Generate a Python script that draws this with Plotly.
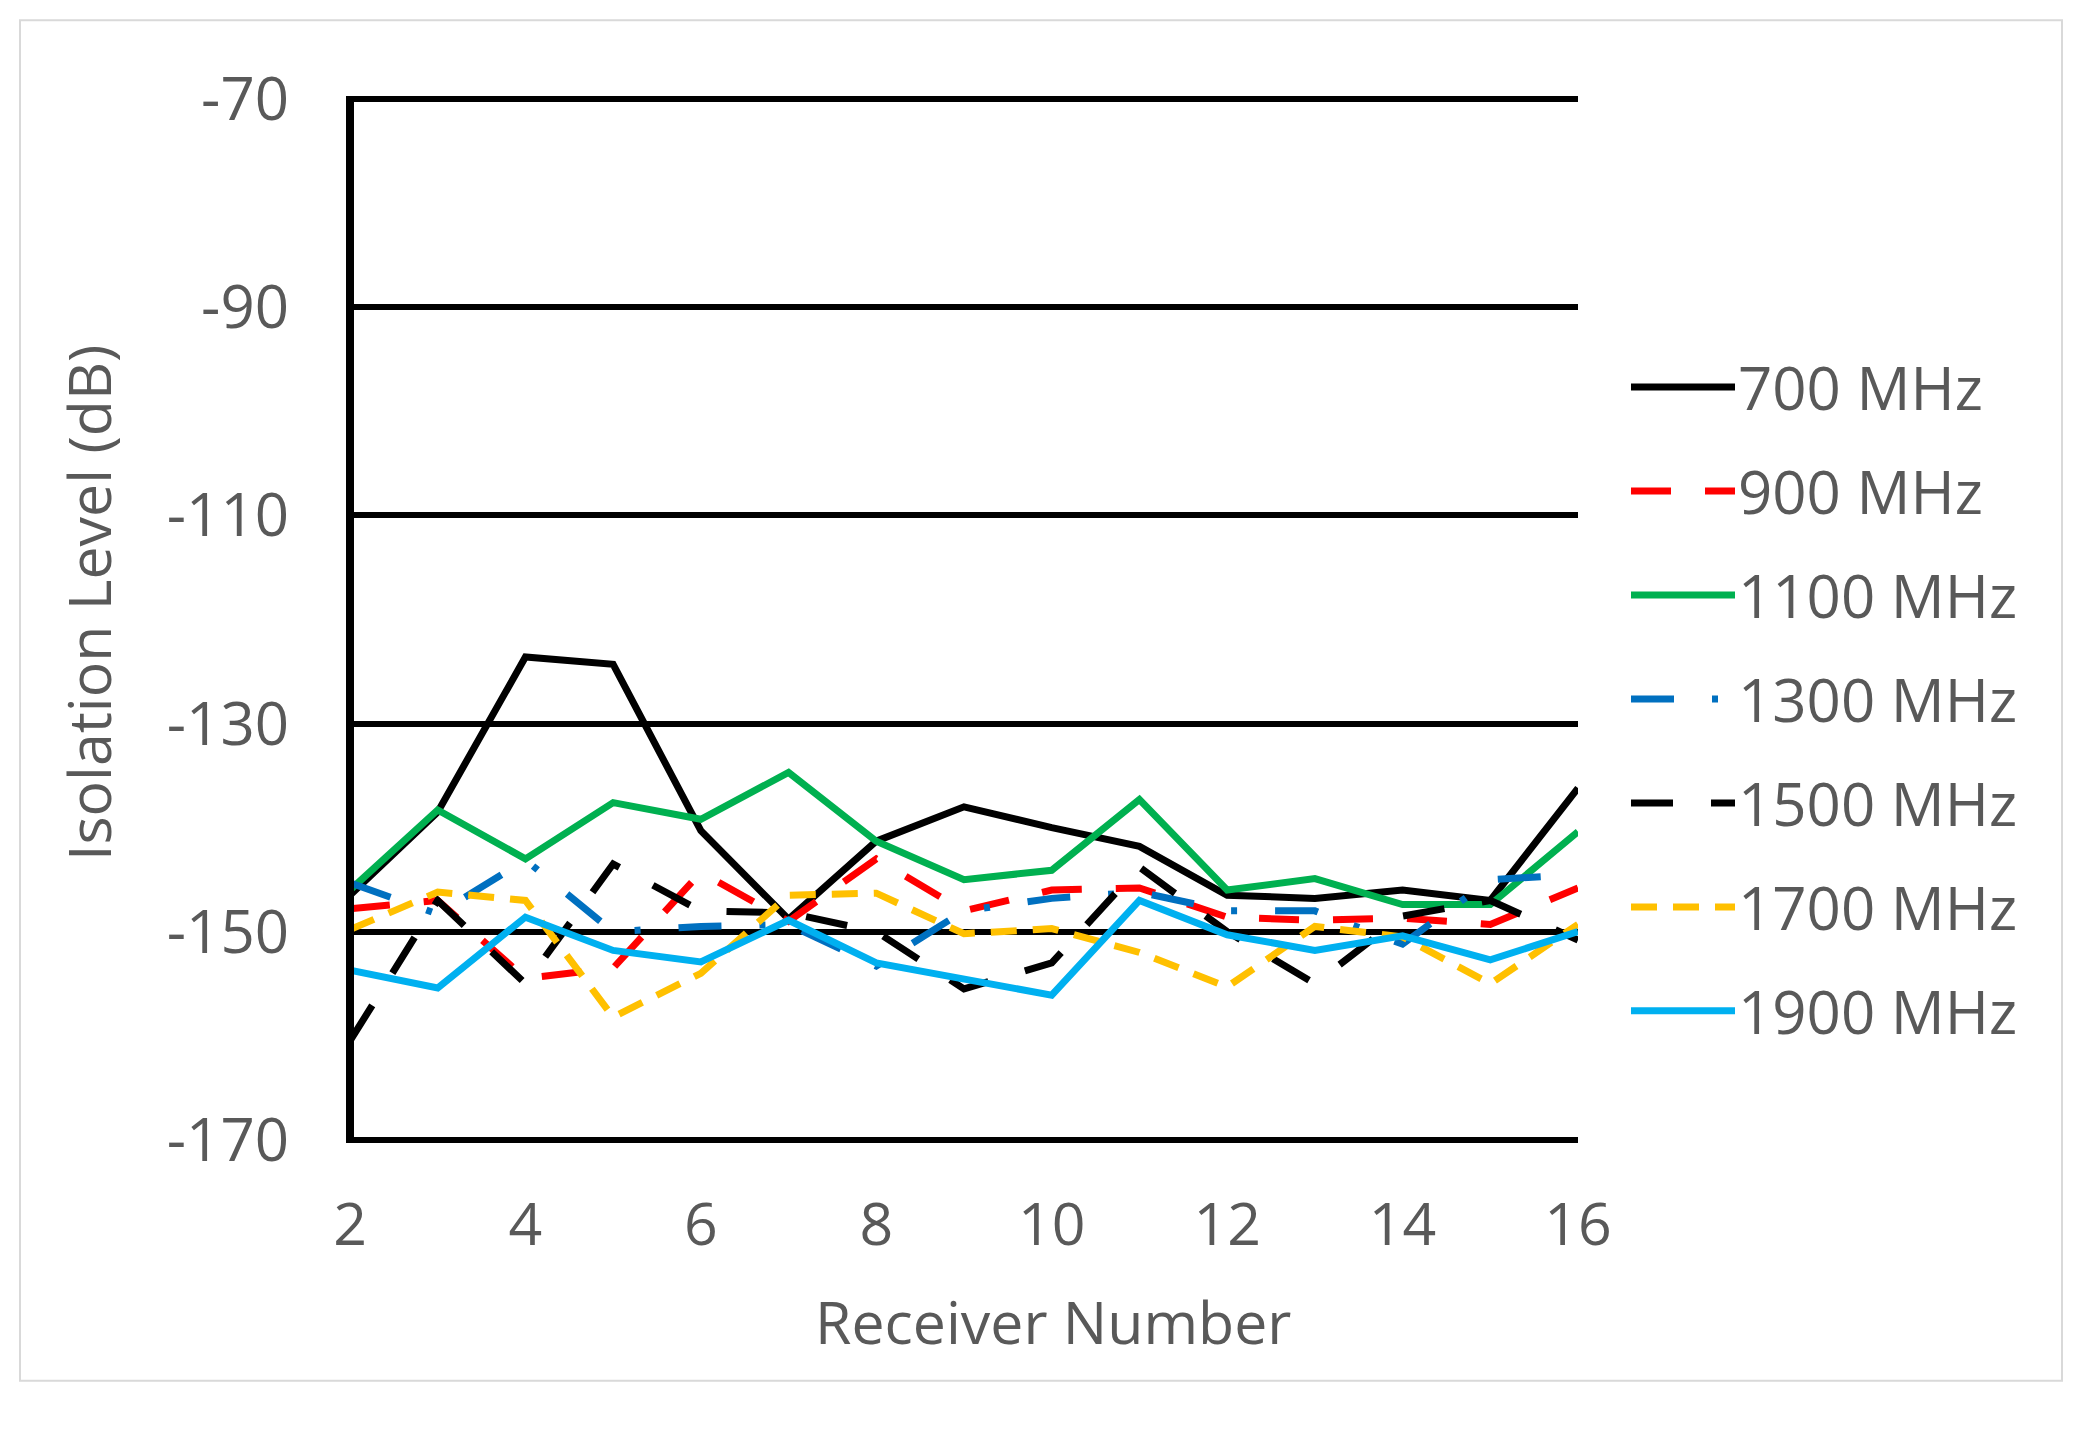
import plotly.graph_objects as go

receivers = list(range(2, 17))

series_names = ["700 MHz", "900 MHz", "1100 MHz", "1300 MHz", "1500 MHz", "1700 MHz", "1900 MHz"]

iso_700 = [-146.5, -138.5, -123.6, -124.3, -140.3, -148.8, -141.3, -138.0, -140.0, -141.8, -146.5, -146.8, -146.0, -147.0, -136.2]
iso_900 = [-147.8, -147.0, -154.5, -153.5, -144.3, -149.0, -143.0, -148.0, -146.0, -145.8, -148.6, -148.9, -148.7, -149.3, -145.8]
iso_1100 = [-146.0, -138.3, -143.0, -137.6, -139.2, -134.7, -141.3, -145.0, -144.1, -137.3, -146.0, -144.9, -147.4, -147.4, -140.4]
iso_1300 = [-145.3, -148.3, -143.1, -150.0, -149.5, -149.3, -153.3, -148.0, -146.8, -146.2, -148.0, -148.0, -151.2, -145.0, -144.5]
iso_1500 = [-160.5, -147.0, -155.0, -143.5, -148.0, -148.2, -150.0, -155.5, -153.0, -143.8, -150.0, -155.0, -148.5, -147.0, -150.8]
iso_1700 = [-149.8, -146.2, -147.0, -158.2, -154.0, -146.5, -146.3, -150.2, -149.7, -152.0, -155.3, -149.5, -150.5, -155.0, -149.3]
iso_1900 = [-153.7, -155.4, -148.6, -151.8, -152.9, -148.9, -153.0, -154.5, -156.1, -147.0, -150.3, -151.8, -150.4, -152.7, -150.0]

series_values = [iso_700, iso_900, iso_1100, iso_1300, iso_1500, iso_1700, iso_1900]

y_ticks = [-170, -150, -130, -110, -90, -70]
y_tick_labels = ["-170", "-150", "-130", "-110", "-90", "-70"]
x_ticks = [2, 4, 6, 8, 10, 12, 14, 16]

colors = ["#000000", "#FF0000", "#00B050", "#0070C0", "#000000", "#FFC000", "#00B0F0"]
dashes = ["solid", "40px,34px", "solid", "43px,38px,6px,38px", "42px,38px", "26px,16px", "solid"]

FONT = "Open Sans"
GRAY = "#595959"

fig = go.Figure()
for name, vals, col, dsh in zip(series_names, series_values, colors, dashes):
    fig.add_trace(go.Scatter(
        x=receivers, y=vals, mode="lines", name=name,
        line=dict(color=col, width=7, dash=dsh),
        showlegend=False,
    ))

# The page body has an 8px default margin; work in page px and convert.
OFF = 8
PAGE_W, PAGE_H = 2093, 1433
W, H = PAGE_W - OFF, PAGE_H - OFF

Y_MIN, Y_MAX = -170, -70
PAD = 0.5  # small range padding so the edge gridlines are drawn
# gridlines -70 / -170 in page px
G_TOP, G_BOT = 99, 1140
per_db = (G_BOT - G_TOP) / (Y_MAX - Y_MIN)
PL, PR = 350, 1578
PT = G_TOP - PAD * per_db
PB = G_BOT + PAD * per_db
pw, ph = PR - PL, PB - PT
L = PL - OFF
T = PT - OFF
R = W - L - pw
B = H - T - ph

def px_x(px):
    return (px - PL) / pw

def px_y(py):
    return (PB - py) / ph

shapes = []
annotations = []

# outer light border
shapes.append(dict(type="rect", xref="paper", yref="paper",
                   x0=px_x(20), x1=px_x(2062), y0=px_y(1381), y1=px_y(20),
                   line=dict(color="#D9D9D9", width=2), layer="below"))

# left vertical axis line, centred on x = 2
shapes.append(dict(type="line", xref="paper", yref="y",
                   x0=0, x1=0, y0=Y_MIN - 0.3, y1=Y_MAX + 0.3,
                   line=dict(color="#000000", width=8)))

# custom legend
for i, (name, col, dsh) in enumerate(zip(series_names, colors, dashes)):
    yc = 387 + 104 * i
    shapes.append(dict(type="line", xref="paper", yref="paper",
                       x0=px_x(1631), x1=px_x(1735), y0=px_y(yc), y1=px_y(yc),
                       line=dict(color=col, width=7, dash=dsh)))
    annotations.append(dict(xref="paper", yref="paper", x=px_x(1736), y=px_y(yc),
                            text=name, showarrow=False, xanchor="left", yanchor="middle",
                            font=dict(family=FONT, size=60, color=GRAY)))

# axis titles
annotations.append(dict(xref="paper", yref="paper", x=px_x(1053), y=px_y(1321),
                        text="Receiver Number", showarrow=False,
                        xanchor="center", yanchor="middle",
                        font=dict(family=FONT, size=59, color=GRAY)))
annotations.append(dict(xref="paper", yref="paper", x=px_x(88), y=px_y(603),
                        text="Isolation Level (dB)", showarrow=False, textangle=-90,
                        xanchor="center", yanchor="middle",
                        font=dict(family=FONT, size=59, color=GRAY)))

fig.update_layout(
    width=W, height=H,
    margin=dict(l=L, r=R, t=T, b=B, autoexpand=False),
    paper_bgcolor="white", plot_bgcolor="white",
    font=dict(family=FONT, size=60, color=GRAY),
    shapes=shapes, annotations=annotations,
    showlegend=False,
)
fig.update_xaxes(
    range=[2, 16], tickmode="array", tickvals=x_ticks,
    ticktext=[str(v) for v in x_ticks],
    ticks="", showgrid=False, zeroline=False, showline=False,
    ticklabelstandoff=40,
    tickfont=dict(family=FONT, size=59, color=GRAY),
)
fig.update_yaxes(
    range=[Y_MIN - PAD, Y_MAX + PAD], tickmode="array", tickvals=y_ticks, ticktext=y_tick_labels,
    ticks="", showgrid=True, gridcolor="#000000", gridwidth=6,
    zeroline=False, showline=False,
    ticklabelstandoff=60,
    tickfont=dict(family=FONT, size=60, color=GRAY),
)

fig.write_html("out.html")
